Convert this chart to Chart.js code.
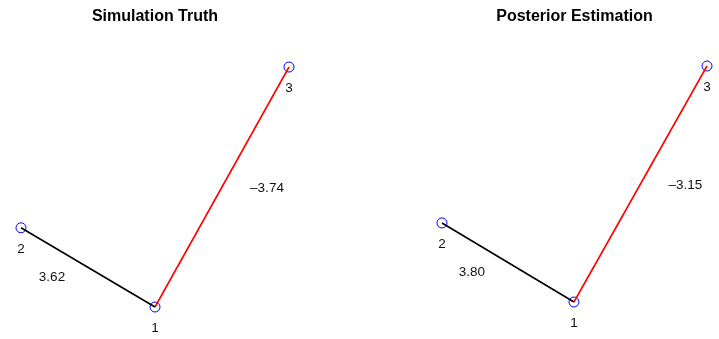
<!DOCTYPE html>
<html lang="en">
<head>
  <meta charset="UTF-8">
  <title>Simulation Truth vs Posterior Estimation</title>
  <script src="https://cdn.jsdelivr.net/npm/chart.js"></script>
  <style>
    body {
      margin: 0;
      background: #fff;
      width: 719px;
      height: 339px;
      position: relative;
      overflow: hidden;
    }
    .panel {
      position: absolute;
      top: 0;
      height: 339px;
    }
    #left { left: 0; width: 360px; }
    #right { left: 360px; width: 359px; }
  </style>
</head>
<body>

<div class="panel" id="left"><canvas id="truthChart"></canvas></div>
<div class="panel" id="right"><canvas id="postChart"></canvas></div>

<script>
  // node layout (normalised plot units) and edge weights
  const nodeNames = ['1', '2', '3'];
  const edges = [[0, 1], [0, 2]]; // node index pairs
  const truthX = [0.5, 0, 1];
  const truthY = [0, 0.33, 1];
  const truthWeights = [3.62, -3.74];
  const postX = [0.498, 0, 1];
  const postY = [0, 0.335, 1];
  const postWeights = [3.80, -3.15];

  const FONT = "'Liberation Sans', Arial, Helvetica, sans-serif";
  // pixel offset of each weight label from its edge midpoint
  const labelOffset = [[-36, 10], [45, 1]];

  const fmt = v => v.toFixed(2).replace('-', '\u2013');

  const graphLabels = {
    id: 'graphLabels',
    afterDatasetsDraw(chart, args, opts) {
      const ctx = chart.ctx;
      const xs = chart.scales.x, ys = chart.scales.y;
      ctx.save();
      ctx.font = '13.5px ' + FONT;
      ctx.fillStyle = '#111';
      ctx.textAlign = 'center';
      ctx.textBaseline = 'middle';
      opts.nx.forEach((x, i) => {
        ctx.fillText(nodeNames[i], xs.getPixelForValue(x), ys.getPixelForValue(opts.ny[i]) + 21);
      });
      edges.forEach(([a, b], k) => {
        const mx = (xs.getPixelForValue(opts.nx[a]) + xs.getPixelForValue(opts.nx[b])) / 2;
        const my = (ys.getPixelForValue(opts.ny[a]) + ys.getPixelForValue(opts.ny[b])) / 2;
        ctx.fillText(fmt(opts.w[k]), mx + labelOffset[k][0], my + labelOffset[k][1]);
      });
      ctx.restore();
    }
  };

  function drawGraph(id, title, nx, ny, w, pad, titleBottom) {
    const datasets = edges.map(([a, b], k) => ({
      type: 'line',
      data: [{x: nx[a], y: ny[a]}, {x: nx[b], y: ny[b]}],
      borderColor: w[k] < 0 ? '#ff0000' : '#000000',
      borderWidth: 1.6,
      pointRadius: 0,
      clip: false
    }));
    datasets.push({
      type: 'scatter',
      data: nx.map((x, i) => ({x: x, y: ny[i]})),
      pointStyle: 'circle',
      pointRadius: 5,
      borderColor: '#0000ff',
      backgroundColor: 'rgba(0,0,0,0)',
      borderWidth: 1,
      clip: false
    });

    new Chart(document.getElementById(id), {
      type: 'scatter',
      data: { datasets: datasets },
      plugins: [graphLabels],
      options: {
        responsive: true,
        maintainAspectRatio: false,
        animation: false,
        layout: { padding: pad },
        scales: {
          x: { type: 'linear', min: 0, max: 1, display: false },
          y: { type: 'linear', min: 0, max: 1, display: false }
        },
        plugins: {
          legend: { display: false },
          tooltip: { enabled: false },
          title: {
            display: true,
            text: title,
            color: '#000',
            font: { family: FONT, size: 16, weight: 'bold' },
            padding: { top: 7.4, bottom: titleBottom }
          },
          graphLabels: { nx: nx, ny: ny, w: w }
        }
      }
    });
  }

  drawGraph('truthChart', 'Simulation Truth', truthX, truthY, truthWeights,
    { left: 21, right: 71, top: 0, bottom: 32 }, 40.4);
  drawGraph('postChart', 'Posterior Estimation', postX, postY, postWeights,
    { left: 82, right: 12, top: 0, bottom: 37 }, 39.4);
</script>

</body>
</html>
